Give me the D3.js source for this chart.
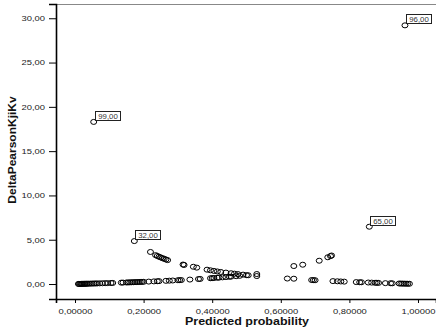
<!DOCTYPE html>
<html>
<head>
<meta charset="utf-8">
<script src="https://cdn.jsdelivr.net/npm/d3@7"></script>
<style>
  body { margin: 0; background: #fff; }
  svg { display: block; font-family: "Liberation Sans", Arial, sans-serif; }
</style>
</head>
<body>
<div class="chart"></div>
<script>
// predicted probability / delta chi-square
var probs = [
  // observed 0, low side
  0.010, 0.012, 0.015, 0.018, 0.020, 0.022, 0.025, 0.028, 0.030, 0.033, 0.036, 0.040,
  0.045, 0.050, 0.055, 0.060, 0.065, 0.072, 0.080, 0.088, 0.095, 0.105, 0.110, 0.135,
  0.140, 0.150, 0.155, 0.160, 0.165, 0.170, 0.175, 0.180, 0.185, 0.190, 0.195, 0.200,
  0.215, 0.230, 0.240, 0.245, 0.265, 0.275, 0.285, 0.300, 0.305, 0.310, 0.335, 0.360,
  0.365, 0.395, 0.400, 0.405, 0.415, 0.420, 0.430, 0.440, 0.450, 0.455, 0.470, 0.480,
  0.500, 0.530,
  // observed 1, left side
  0.220, 0.235, 0.240, 0.245, 0.250, 0.255, 0.260, 0.265, 0.270, 0.315, 0.318, 0.345,
  0.355, 0.385, 0.395, 0.405, 0.415, 0.425, 0.440, 0.455, 0.465, 0.475, 0.490, 0.505,
  0.530,
  // observed 0, high side
  0.638, 0.664, 0.712, 0.737, 0.745, 0.748,
  // observed 1, right side
  0.619, 0.638, 0.690, 0.695, 0.700, 0.752, 0.765, 0.775, 0.785, 0.820, 0.830, 0.835,
  0.855, 0.865, 0.875, 0.880, 0.885, 0.905, 0.920, 0.925, 0.945, 0.950, 0.955, 0.960,
  0.965, 0.970, 0.975
];
var deltas = [
  0.01, 0.012, 0.015, 0.018, 0.02, 0.022, 0.026, 0.029, 0.031, 0.034, 0.037, 0.042,
  0.047, 0.053, 0.058, 0.064, 0.07, 0.078, 0.087, 0.097, 0.105, 0.117, 0.124, 0.156,
  0.163, 0.176, 0.183, 0.19, 0.198, 0.205, 0.212, 0.22, 0.227, 0.235, 0.242, 0.25,
  0.274, 0.299, 0.316, 0.325, 0.361, 0.379, 0.399, 0.429, 0.439, 0.449, 0.504, 0.563,
  0.575, 0.653, 0.667, 0.681, 0.709, 0.724, 0.754, 0.786, 0.818, 0.835, 0.887, 0.923,
  1.0, 1.128,
  3.62, 3.26, 3.17, 3.08, 3.0, 2.92, 2.85, 2.77, 2.70, 2.2, 2.15, 1.95,
  1.85, 1.62, 1.55, 1.48, 1.42, 1.36, 1.29, 1.22, 1.17, 1.12, 1.06, 0.99,
  0.9,
  2.03, 2.18, 2.63, 3.02, 3.15, 3.22,
  0.62, 0.60, 0.45, 0.44, 0.43, 0.33, 0.31, 0.29, 0.27, 0.22, 0.20, 0.20,
  0.17, 0.16, 0.14, 0.14, 0.13, 0.10, 0.09, 0.08, 0.06, 0.05, 0.05, 0.04,
  0.04, 0.03, 0.03
];
// labelled cases
var caseIds = ["99,00", "96,00", "32,00", "65,00"];
var caseProbs = [0.0545, 0.962, 0.173, 0.858];
var caseDeltas = [18.3, 29.2, 4.85, 6.47];

var xTicks = [0, 0.2, 0.4, 0.6, 0.8, 1.0];
var yTicks = [0, 5, 10, 15, 20, 25, 30];

function drawChart() {
  var svgWidth = 436, svgHeight = 333;
  var stretch = 1.27; // text in the picture is drawn wide

  var svg = d3.select(".chart").append("svg")
    .attr("width", svgWidth)
    .attr("height", svgHeight);

  var plotLeft = 56, plotRight = 436, plotTop = 4, plotBottom = 299;

  var x = d3.scaleLinear().domain([-0.0554, 1.0525]).range([plotLeft, plotRight]);
  var y = d3.scaleLinear().domain([-1.69, 31.61]).range([plotBottom, plotTop]);

  var comma = function(n, k) { return n.toFixed(k).replace(".", ","); };

  // top frame line
  svg.append("line")
    .attr("x1", plotLeft).attr("x2", plotRight)
    .attr("y1", plotTop + 0.5).attr("y2", plotTop + 0.5)
    .attr("stroke", "#888").attr("stroke-width", 1);

  // x axis
  var xAxis = svg.append("g")
    .attr("transform", `translate(0, ${plotBottom})`)
    .call(d3.axisBottom(x).tickValues(xTicks).tickSize(4).tickPadding(6)
      .tickFormat(d => comma(d, 5)));
  xAxis.select(".domain").attr("stroke", "#000").attr("stroke-width", 1.6);
  xAxis.selectAll(".tick line").attr("stroke", "#000");
  xAxis.selectAll("text")
    .attr("font-size", 7.4)
    .attr("fill", "#222")
    .attr("transform", `scale(${stretch},1)`);

  // y axis
  var yAxis = svg.append("g")
    .attr("transform", `translate(${plotLeft}, 0)`)
    .call(d3.axisLeft(y).tickValues(yTicks).tickSize(7).tickPadding(4)
      .tickFormat(d => comma(d, 2)));
  yAxis.select(".domain").attr("stroke", "#000").attr("stroke-width", 1.6);
  yAxis.selectAll(".tick line").attr("stroke", "#000");
  yAxis.selectAll("text")
    .attr("font-size", 7.4)
    .attr("fill", "#222")
    .attr("x", -11 / stretch)
    .attr("transform", `scale(${stretch},1)`);

  // axis titles
  svg.append("text")
    .attr("transform", `translate(247, 324.5) scale(1.25,1)`)
    .attr("text-anchor", "middle")
    .attr("font-size", 10)
    .attr("font-weight", "bold")
    .attr("fill", "#111")
    .text("Predicted probability");

  svg.append("text")
    .attr("transform", `translate(16, 150) rotate(-90) scale(1.2,1)`)
    .attr("text-anchor", "middle")
    .attr("font-size", 10)
    .attr("font-weight", "bold")
    .attr("fill", "#111")
    .text("DeltaPearsonKjiKv");

  // points
  var pts = probs.map((p, i) => ({p: p, d: deltas[i]}));
  svg.append("g").selectAll("ellipse")
    .data(pts)
    .enter()
    .append("ellipse")
    .attr("cx", d => x(d.p))
    .attr("cy", d => y(d.d))
    .attr("rx", 3)
    .attr("ry", 2.5)
    .attr("fill", "none")
    .attr("stroke", "#000")
    .attr("stroke-width", 1);

  // labelled cases
  var cases = caseIds.map((id, i) => ({id: id, p: caseProbs[i], d: caseDeltas[i]}));
  var cg = svg.append("g").selectAll("g")
    .data(cases)
    .enter()
    .append("g");

  cg.append("ellipse")
    .attr("cx", d => x(d.p))
    .attr("cy", d => y(d.d))
    .attr("rx", 3)
    .attr("ry", 2.5)
    .attr("fill", "none")
    .attr("stroke", "#000");

  cg.append("rect")
    .attr("x", d => Math.round(x(d.p)) + 1.5)
    .attr("y", d => Math.round(y(d.d)) - 10.5)
    .attr("width", 25)
    .attr("height", 9)
    .attr("fill", "#fff")
    .attr("stroke", "#222")
    .attr("stroke-width", 1);

  cg.append("text")
    .attr("transform", d => `translate(${Math.round(x(d.p)) + 14}, ${Math.round(y(d.d)) - 3.5}) scale(1.2,1)`)
    .attr("text-anchor", "middle")
    .attr("font-size", 6.5)
    .attr("fill", "#333")
    .text(d => d.id);
}

drawChart();
</script>
</body>
</html>
